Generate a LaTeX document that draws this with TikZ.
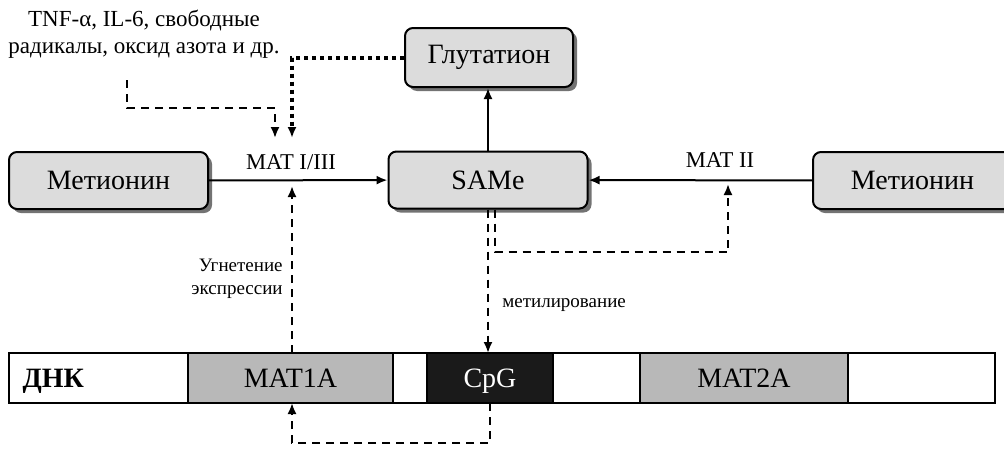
\documentclass[tikz,border=0pt]{standalone}
\usepackage{fontspec}
\setmainfont{Liberation Serif}
\usetikzlibrary{arrows.meta,shadows,positioning}
\definecolor{boxgray}{HTML}{DCDCDC}
\definecolor{genegray}{HTML}{B8B8B8}
\definecolor{cpgblack}{HTML}{1A1A1A}
\tikzset{
  box/.style={draw, line width=1pt, rounded corners=4pt, fill=boxgray,
    minimum width=99.5pt, minimum height=28.5pt, inner sep=0pt,
    font=\fontsize{14}{16}\selectfont,
    drop shadow={shadow xshift=2pt, shadow yshift=-2pt, fill=black!55, opacity=1}},
  segment/.style={draw, line width=0.9pt, minimum height=25pt, inner sep=0pt,
    outer sep=0pt, anchor=west, text height=9.6pt, text depth=0pt,
    font=\fontsize{14}{16}\selectfont},
  enzyme/.style={font=\fontsize{11.3}{13}\selectfont, inner sep=0pt},
  note/.style={font=\fontsize{9.5}{11.5}\selectfont, inner sep=0pt},
  arr/.style={line width=1pt, -{Latex[length=5.5pt, width=4.5pt]}},
  dashline/.style={arr, dash pattern=on 4pt off 3pt},
  dotline/.style={line width=2pt, dash pattern=on 2pt off 2pt,
    -{Latex[length=5.5pt, width=4.5pt]}}
}
\begin{document}
\begin{tikzpicture}[x=0.5pt, y=-0.5pt, line join=miter]
  \useasboundingbox (0,0) rectangle (1004,450);
  % top row
  \node[box, minimum width=84pt, minimum height=29.5pt] (glut) at (489,57.5) {Глутатион};
  \node[box] (same) at (488,180) {SAMe};
  \node[box] (metL) at (108.5,180.5) {Метионин};
  \node[box] (metR) at (912.5,180.5) {Метионин};
  \node[enzyme] (matone) at (291,162) {MAT I/III};
  \node[enzyme] (mattwo) at (720,160) {MAT II};
  \node[font=\fontsize{11.5}{13.5}\selectfont, align=center, inner sep=0pt] (infl) at (144,34)
    {TNF-α, IL-6, свободные\\радикалы, оксид азота и др.};
  % DNA strip
  \node[segment, minimum width=89.5pt] (dna) at (9,378) {\makebox[76pt][l]{\textbf{ДНК}}};
  \node[segment, fill=genegray, minimum width=102.5pt, right=0pt of dna] (matA) {MAT1A};
  \node[segment, minimum width=17pt, right=0pt of matA] (gapA) {};
  \node[segment, fill=cpgblack, text=white, minimum width=63pt, right=0pt of gapA] (cpg) {CpG};
  \node[segment, minimum width=43.5pt, right=0pt of cpg] (gapB) {};
  \node[segment, fill=genegray, minimum width=104pt, right=0pt of gapB] (matB) {MAT2A};
  \node[segment, minimum width=73.5pt, right=0pt of matB] (gapC) {};
  \node[note, anchor=east, align=right] (supp) at (283,279) {Угнетение\\экспрессии};
  \node[note, anchor=west] (methyl) at (502,305) {метилирование};
  % bend points
  \coordinate (tipL) at (292,186);
  \coordinate (tipR) at (728,184);
  \coordinate (tipA) at (275,138);
  \coordinate (tipB) at (292,138);
  \coordinate (inflA) at (127,80);
  \coordinate (bendA) at (275,108);
  \coordinate (loopR) at (728,252);
  \coordinate (loopB) at (292,443);
  % connectors
  \draw[arr] (metL) -- (same);
  \draw[arr] (metR) -- (same);
  \draw[arr] (same.north) -- (same.north |- glut.south);
  \draw[dotline] (glut.west) -| (tipB);
  \draw[dashline] (inflA) |- (bendA) -- (tipA);
  \draw[dashline] (tipL |- matA.north) -- (tipL);
  \draw[dashline] (same.south) -- (same.south |- cpg.north);
  \draw[dashline] ([xshift=3.5pt]same.south) |- (loopR) -- (tipR);
  \draw[dashline] (cpg.south) |- (loopB) -- (loopB |- matA.south);
\end{tikzpicture}
\end{document}
